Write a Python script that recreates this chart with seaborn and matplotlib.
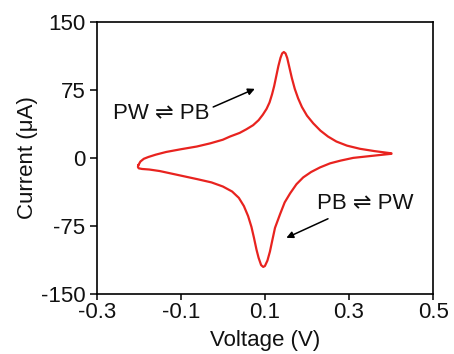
import matplotlib
matplotlib.use("Agg")
import matplotlib.pyplot as plt
import seaborn as sns
import pandas as pd

# Cyclic voltammogram: anodic sweep (-0.2 V -> 0.4 V) then cathodic sweep back
v_anodic = [-0.201, -0.196, -0.188, -0.177, -0.160, -0.135, -0.100, -0.062, -0.030, 0.000,
            0.017, 0.040, 0.056, 0.072, 0.085, 0.095, 0.104, 0.111, 0.117, 0.122,
            0.127, 0.132, 0.137, 0.141, 0.145, 0.149, 0.153, 0.158, 0.164, 0.171,
            0.179, 0.188, 0.200, 0.215, 0.232, 0.250, 0.270, 0.295, 0.326, 0.360, 0.401]
i_anodic = [-8, -4, -1, 1, 3.5, 6.5, 9.5, 12.5, 16, 20,
            23.5, 27.5, 31.5, 36, 41.5, 47.5, 54, 61, 70, 79,
            90, 101, 110, 115, 116.5, 115, 110, 100, 88, 76,
            65.5, 56, 46.5, 38, 30, 23.5, 18, 13.5, 10, 7.5, 5]

v_cathodic = [0.401, 0.370, 0.340, 0.310, 0.280, 0.255, 0.231, 0.210, 0.191, 0.175,
              0.160, 0.147, 0.136, 0.124, 0.117, 0.112, 0.106, 0.100, 0.096, 0.091,
              0.085, 0.080, 0.074, 0.068, 0.060, 0.050, 0.038, 0.022, 0.000, -0.027,
              -0.060, -0.090, -0.120, -0.150, -0.175, -0.192, -0.200, -0.202, -0.201]
i_cathodic = [4.5, 3, 1.5, 0, -3, -6, -10.5, -15.5, -21.5, -29,
              -39, -49, -62, -77, -92, -103, -113, -119, -120, -118,
              -110, -101, -88, -76, -64, -53, -44, -37, -31.5, -27,
              -23.5, -20.5, -17.5, -14.5, -12.8, -12.2, -11.5, -10, -8]

x_ticks = [-0.3, -0.1, 0.1, 0.3, 0.5]
y_ticks = [-150, -75, 0, 75, 150]

cv = pd.DataFrame({
    "Voltage": v_anodic + v_cathodic,
    "Current": i_anodic + i_cathodic,
})

sns.set_style("ticks")
plt.rcParams["font.family"] = ["Liberation Sans", "DejaVu Sans"]

fig = plt.figure(figsize=(4.54, 3.54), dpi=100)
ax = fig.add_axes([0.213, 0.169, 0.741, 0.770])

sns.lineplot(data=cv, x="Voltage", y="Current", sort=False, estimator=None,
             color="#e8231f", linewidth=1.6, ax=ax)
for line in ax.lines:
    line.set_solid_joinstyle("round")

ax.set_xlim(-0.3, 0.5)
ax.set_ylim(-150, 150)
ax.set_xticks(x_ticks)
ax.set_xticklabels([f"{t:g}" for t in x_ticks])
ax.set_yticks(y_ticks)
ax.set_yticklabels([f"{t:g}" for t in y_ticks])
ax.tick_params(axis="both", direction="out", width=1.1,
               labelsize=16, color="black", labelcolor="#111111")
ax.tick_params(axis="y", length=5, pad=3)
ax.tick_params(axis="x", length=4, pad=1.5)
for side in ["left", "right", "top", "bottom"]:
    ax.spines[side].set_visible(True)
    ax.spines[side].set_linewidth(1.2)
    ax.spines[side].set_color("black")

ax.set_xlabel("Voltage (V)", fontsize=16, color="#111111", labelpad=5)
ax.set_ylabel("Current (\u03bcA)", fontsize=16, color="#111111", labelpad=2)

arrow = dict(arrowstyle="-|>", color="black", lw=1.1, mutation_scale=10,
             shrinkA=0, shrinkB=0)
ax.annotate("", xy=(0.076, 76), xytext=(-0.023, 56), arrowprops=arrow)
ax.text(-0.146, 49, "PW \u21cc PB", fontsize=16, ha="center", va="center",
        color="#111111", family=["Liberation Sans", "DejaVu Sans"])
ax.annotate("", xy=(0.151, -88), xytext=(0.250, -67), arrowprops=arrow)
ax.text(0.3375, -50, "PB \u21cc PW", fontsize=16, ha="center", va="center",
        color="#111111", family=["Liberation Sans", "DejaVu Sans"])

fig.savefig("out.png", dpi=100)
